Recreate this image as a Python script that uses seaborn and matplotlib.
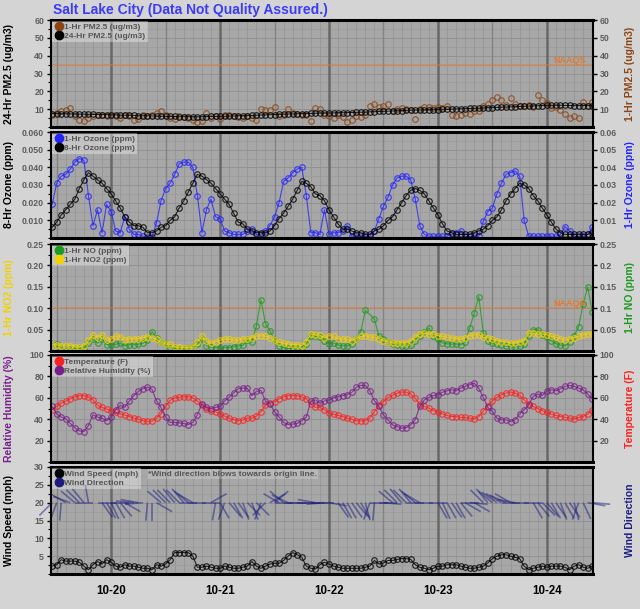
import numpy as np
import pandas as pd
import matplotlib
matplotlib.use("Agg")
import matplotlib.pyplot as plt
import matplotlib.dates as mdates
from matplotlib.lines import Line2D
from matplotlib.collections import LineCollection
from matplotlib.ticker import FixedLocator, MultipleLocator, FormatStrFormatter, FuncFormatter
import seaborn as sns

# hourly readings, 10-19 11:00 through 10-24 10:00
times = pd.date_range("2023-10-19 11:00", periods=120, freq="h")

pm25_1hr = [7, 8, 9, 9.5, 10.5, 6, 4, 3.5, 5, 6,
            6.5, 7, 6, 7, 6, 5, 7, 6, 4, 4.5,
            7, 6, 6.5, 8, 9, 7, 5, 4.5, 6, 5.5,
            5, 4, 3, 3.5, 8, 5, 6, 4.5, 6.5, 7,
            6, 5.5, 5, 6, 5, 4, 10, 9.5, 9.5, 11,
            6, 7, 10, 8, 7.5, 6.5, 7, 3.5, 10.5, 10,
            7, 6, 5, 6.5, 5.5, 3, 4, 6, 5.5, 7,
            12, 13, 11, 12, 13, 9, 10, 10.5, 10, 9.5,
            4.5, 10, 11, 11, 10.5, 11, 10.5, 11.5, 7, 6,
            6.5, 8, 7.5, 9, 9, 12, 13, 15, 17, 15,
            12.5, 16, 13, 11.5, 12, 12.5, 11, 18, 15, 13.5,
            10.5, 11, 9.5, 7.5, 5, 6, 5, 14, 11.5, 14]

pm25_24hr = [7.5, 7.5, 7.4, 7.4, 7.3, 7.3, 7.2, 7.2, 7.1, 7.1,
             7.0, 7.0, 6.9, 6.8, 6.8, 6.7, 6.6, 6.6, 6.5, 6.4,
             6.3, 6.3, 6.2, 6.1, 6.0, 6.0, 5.9, 5.9, 5.8, 5.8,
             5.8, 5.8, 5.7, 5.8, 5.8, 5.9, 5.9, 6.0, 6.0, 6.1,
             6.2, 6.3, 6.3, 6.4, 6.5, 6.6, 6.7, 6.8, 6.9, 7.0,
             7.1, 7.2, 7.3, 7.3, 7.4, 7.5, 7.5, 7.6, 7.7, 7.8,
             7.8, 7.9, 7.9, 8.0, 8.0, 8.1, 8.1, 8.2, 8.3, 8.4,
             8.5, 8.6, 8.7, 8.8, 8.9, 9.0, 9.1, 9.2, 9.3, 9.4,
             9.5, 9.5, 9.6, 9.7, 9.7, 9.8, 9.9, 9.9, 10.0, 10.1,
             10.2, 10.3, 10.4, 10.5, 10.6, 10.7, 10.8, 10.9, 11.0, 11.1,
             11.2, 11.3, 11.4, 11.5, 11.6, 11.7, 11.8, 11.9, 12.0, 12.1,
             12.2, 12.2, 12.2, 12.1, 12.1, 12.0, 12.0, 12.0, 12.0, 12.0]

ozone_1hr = [.019, .031, .035, .036, .039, .043, .045, .044, .024, .007,
             .016, .003, .019, .015, .004, .003, .012, .005, .002, .002,
             .001, .0005, .0005, .0087, .021, .028, .031, .036, .042, .043,
             .043, .040, .024, .003, .016, .022, .012, .011, .004, .003,
             .002, .002, .002, .004, .005, .002, .002, .004, .007, .012,
             .020, .032, .034, .037, .039, .040, .024, .003, .003, .002,
             .016, .002, .003, .003, .004, .007, .001, .001, .001, .001,
             .001, .004, .011, .018, .023, .030, .034, .035, .035, .033,
             .022, .007, .002, .001, .001, .001, .001, .001, .002, .003,
             .004, .001, .001, .001, .001, .0095, .015, .017, .025, .031,
             .036, .037, .038, .035, .010, .001, .001, .001, .001, .001,
             .001, .001, .002, .0065, .004, .001, .001, .001, .002, .006]

ozone_8hr = [.006, .009, .013, .016, .019, .022, .028, .033, .037, .035,
             .033, .031, .028, .025, .021, .017, .012, .009, .007, .007,
             .006, .003, .003, .004, .006, .007, .010, .012, .017, .021,
             .026, .031, .036, .035, .033, .031, .028, .025, .022, .019,
             .014, .009, .008, .005, .004, .003, .003, .003, .004, .007,
             .011, .014, .018, .022, .027, .032, .031, .029, .025, .024,
             .021, .016, .012, .008, .005, .005, .004, .003, .003, .002,
             .002, .004, .005, .007, .010, .012, .016, .020, .024, .027,
             .028, .027, .025, .021, .017, .013, .008, .004, .003, .002,
             .002, .002, .002, .003, .004, .005, .007, .010, .012, .016,
             .021, .025, .028, .031, .030, .028, .024, .021, .017, .013,
             .009, .005, .003, .002, .002, .002, .002, .002, .002, .003]

no2_1hr = [.015, .015, .012, .012, .012, .010, .010, .012, .025, .037,
           .031, .037, .025, .028, .035, .033, .025, .029, .029, .029,
           .031, .033, .031, .027, .020, .016, .016, .010, .009, .008,
           .007, .009, .022, .035, .024, .018, .022, .025, .028, .028,
           .025, .025, .028, .028, .031, .035, .036, .035, .031, .025,
           .020, .018, .016, .015, .015, .012, .022, .040, .038, .037,
           .031, .036, .034, .029, .027, .027, .024, .029, .034, .036,
           .032, .032, .029, .024, .022, .019, .019, .019, .019, .024,
           .032, .040, .041, .040, .040, .036, .034, .032, .031, .029,
           .027, .031, .036, .038, .038, .032, .031, .027, .024, .022,
           .022, .019, .019, .022, .024, .041, .041, .040, .040, .038,
           .034, .032, .029, .025, .027, .031, .034, .038, .040, .040]

no_1hr = [.015, .016, .007, .006, .005, .005, .006, .007, .018, .028,
          .018, .028, .015, .015, .016, .018, .012, .015, .014, .016,
          .018, .025, .045, .031, .020, .016, .008, .006, .005, .005,
          .006, .009, .016, .028, .012, .009, .008, .007, .008, .008,
          .010, .012, .013, .025, .020, .058, .120, .064, .047, .025,
          .012, .008, .006, .007, .006, .010, .016, .036, .034, .032,
          .024, .017, .019, .014, .012, .012, .016, .027, .045, .095,
          np.nan, .075, .035, .029, .022, .016, .014, .012, .012, .014,
          .024, .036, .044, .054, .036, .027, .019, .017, .016, .017,
          .014, .022, .054, .088, .127, .042, .024, .019, .016, .014,
          .012, .010, .010, .011, .016, .036, .050, .050, .038, .032,
          .024, .017, .014, .012, .022, .036, .057, .110, .150, .092]

temperature = [49, 52, 55, 57, 59, 61, 62, 62, 61, 58,
               53, 51, 49.5, 48, 46.5, 45, 44, 42.5, 41, 40,
               38.5, 38, 38, 41, 45, 52, 57.5, 60, 60.5, 61,
               61, 60, 57, 53, 50, 48, 47, 45, 43, 41,
               39.5, 38.5, 39, 41, 41, 43, 47, 53, 55, 56.5,
               59, 61, 62, 62, 62, 61, 59, 54, 51, 51,
               48.8, 45.7, 44.7, 43.5, 42.5, 41, 40, 38.5, 38.5, 38.5,
               41, 47, 53, 56.5, 60.3, 62.2, 64.4, 65.4, 65.4, 63.5,
               59.5, 54, 52, 50.3, 48, 46.5, 45, 43.5, 42.5, 42.5,
               41.6, 41.6, 41, 40.3, 42.5, 47.8, 52.8, 57.2, 60.3, 62.8,
               64.4, 65.4, 64.4, 62.2, 58.2, 54.1, 52, 50, 48, 46.3,
               44.7, 43.5, 42.5, 41.6, 41, 40.3, 41.6, 42.5, 44.7, 48.8]

humidity = [52, 45, 42, 40.5, 36, 32, 29, 28.5, 34, 44,
            42, 41, 38.5, 42, 49, 53, 51, 57, 62, 66,
            68.5, 70, 68, 57, 51, 42, 37, 37, 36.5, 36,
            35, 37, 44, 54.5, 51, 50, 51, 52, 57, 60.5,
            64.5, 68.5, 69, 69, 62, 66, 67, 57, 54.5, 47,
            42, 37, 35, 35.5, 36, 38.5, 42, 57, 58, 55,
            57, 58, 60, 61, 62, 63, 65, 69.7, 71.6, 71.6,
            66.6, 57.2, 52, 44, 39.4, 34.7, 33.1, 31.6, 32.2, 34.7,
            39.4, 52, 58, 60.3, 62.2, 62.8, 65.3, 66.6, 67.5, 66.6,
            69, 70.7, 72.2, 73.8, 69, 60.3, 51, 47.2, 41, 39.4,
            39.4, 37.8, 39.4, 44.7, 48.8, 53.5, 61.3, 63.5, 62.2, 66.6,
            67.5, 66.6, 68.5, 70.7, 71.6, 70.7, 69, 67.5, 63.5, 59]

wind_speed = [2.2, 2.6, 4.0, 3.6, 3.6, 3.6, 3.3, 2.2, 1.2, 2.6,
              3.5, 2.8, 4.0, 3.3, 2.2, 1.9, 2.6, 2.2, 2.2, 1.9,
              1.6, 1.6, 1.2, 2.6, 2.2, 2.8, 4.0, 6.0, 6.0, 6.0,
              6.0, 5.0, 1.9, 1.9, 2.2, 1.9, 1.6, 1.6, 2.2, 1.9,
              1.6, 1.6, 1.9, 2.2, 3.5, 2.2, 1.6, 2.2, 2.8, 3.0,
              3.0, 3.8, 5.0, 6.0, 5.4, 4.7, 2.2, 1.6, 1.4, 2.6,
              3.3, 2.8, 2.2, 1.9, 1.6, 1.6, 1.6, 1.6, 1.6, 1.9,
              2.2, 3.8, 2.8, 3.1, 3.8, 3.8, 4.1, 4.3, 4.3, 4.1,
              2.6, 1.9, 1.6, 1.2, 1.6, 2.2, 2.2, 2.6, 2.6, 2.6,
              2.2, 1.9, 1.6, 1.6, 1.9, 2.2, 3.1, 4.3, 5.0, 5.4,
              5.4, 5.0, 4.7, 4.3, 2.2, 1.2, 1.6, 1.9, 2.2, 1.9,
              2.2, 2.2, 2.2, 1.9, 1.2, 2.2, 2.6, 1.9, 1.6, 2.2]

# compass bearing the wind blows towards (0 = up on the chart)
wind_dir = [225, 200, 185, 300, 290, 310, 315, 320, 350, 270,
            90, 145, 150, 155, 150, 140, 120, 270, 275, 280,
            265, 185, 180, 120, 310, 315, 315, 320, 315, 320,
            310, 300, 270, 90, 270, 60, 190, 150, 200, 140,
            150, 145, 160, 135, 160, 135, 200, 225, 60, 50,
            300, 310, 295, 270, 90, 270, 270, 90, 280, 270,
            265, 100, 270, 145, 150, 150, 145, 140, 150, 165,
            200, 185, 90, 95, 270, 310, 315, 320, 315, 320,
            310, 300, 270, 90, 270, 150, 155, 150, 145, 150,
            140, 120, 95, 120, 270, 315, 320, 310, 305, 300,
            295, 300, 280, 270, 90, 270, 150, 140, 135, 140,
            150, 145, 160, 150, 145, 165, 200, 155, 100, 95]

pm25_naaqs = 35
no2_naaqs = 0.10

BROWN = "#8b4513"
BLUE = "#2424ff"
GREEN = "#1e9a1e"
YELLOW = "#f2d000"
RED = "#ff2020"
PURPLE = "#7a1f8a"
NAVY = "#1c1c80"
ORANGE = "#e8782c"
FIG_BG = "#d4d4d4"
PLOT_BG = "#a7a7a7"
TICK_GRAY = "#5c5c5c"

sns.set_theme(style="white")
plt.rcParams["font.family"] = ["Liberation Sans", "DejaVu Sans"]
plt.rcParams["font.weight"] = "bold"
plt.rcParams["axes.labelweight"] = "bold"

fig = plt.figure(figsize=(6.4, 6.09), dpi=100)
fig.patch.set_facecolor(FIG_BG)

W, H = 640, 609
panel_px = [(20, 127), (132, 238), (244, 351), (355, 462), (467, 574)]
axes = [fig.add_axes([51 / W, 1 - b / H, 542 / W, (b - t) / H]) for t, b in panel_px]

noons = pd.date_range("2023-10-19 12:00", periods=6, freq="D")
midnights = pd.date_range("2023-10-20", periods=5, freq="D")


def style_panel(ax, ylim, ticks, minor, fmt):
    ax.set_facecolor(PLOT_BG)
    ax.set_xlim(times[0] - pd.Timedelta(minutes=15), times[-1] + pd.Timedelta(minutes=10))
    ax.set_ylim(*ylim)
    ax.yaxis.set_major_locator(FixedLocator(ticks))
    ax.yaxis.set_minor_locator(MultipleLocator(minor))
    ax.yaxis.set_major_formatter(fmt)
    ax.xaxis.set_major_locator(mdates.DayLocator())
    ax.xaxis.set_minor_locator(mdates.HourLocator(byhour=range(0, 24, 2)))
    ax.xaxis.set_major_formatter(mdates.DateFormatter("%m-%d"))
    ax.set_axisbelow(True)
    ax.grid(which="minor", axis="x", color="#959595", lw=0.6)
    ax.grid(which="major", axis="y", color="#8e8e8e", lw=0.6)
    ax.grid(which="minor", axis="y", color="#9b9b9b", lw=0.5)
    for d in noons:
        ax.axvline(d, color="#838383", lw=1.0, zorder=0.7)
    for d in midnights:
        ax.axvline(d, color="#686868", lw=1.8, zorder=0.8)
    ax.tick_params(axis="y", which="major", left=True, length=3, width=1,
                   color="black", labelsize=6.3, labelcolor=TICK_GRAY, pad=2)
    ax.tick_params(axis="y", which="minor", left=True, length=2, width=0.8, color="black")
    ax.tick_params(axis="x", which="both", bottom=False, labelbottom=False)
    for side in ["left", "right"]:
        ax.spines[side].set_linewidth(1.5)
        ax.spines[side].set_color("black")
    for side in ["top", "bottom"]:
        ax.spines[side].set_linewidth(2.2)
        ax.spines[side].set_color("black")


def add_right(ax, ticks, fmt, label, color):
    ax2 = ax.twinx()
    ax2.set_ylim(ax.get_ylim())
    ax2.grid(False)
    if ticks:
        ax2.yaxis.set_major_locator(FixedLocator(ticks))
        ax2.yaxis.set_major_formatter(fmt)
        ax2.tick_params(axis="y", right=True, length=3, width=1, color="black",
                        labelsize=6.3, labelcolor=TICK_GRAY, pad=2)
    else:
        ax2.set_yticks([])
    ax2.set_ylabel(label, color=color, fontsize=7.5, rotation=90)
    ax2.yaxis.set_label_coords(1.059, 0.5)
    for s in ax2.spines.values():
        s.set_visible(False)
    return ax2


def draw_series(ax, values, color, connect=True):
    sns.lineplot(x=times, y=values, ax=ax, color=color, errorbar=None,
                 marker="o", markersize=4.0, markerfacecolor="none",
                 markeredgecolor=color, markeredgewidth=0.85,
                 linewidth=0.8, linestyle="-" if connect else "none", alpha=0.8)


def add_legend(ax, entries):
    handles = [Line2D([], [], marker="o", linestyle="none", markersize=6,
                      markerfacecolor=c, markeredgecolor=c) for _, c in entries]
    leg = ax.legend(handles, [lbl for lbl, _ in entries], loc="upper left",
                    fontsize=6, frameon=True, fancybox=False, facecolor="white",
                    framealpha=0.35, edgecolor="none", borderpad=0.25,
                    handletextpad=0.2, labelspacing=0.12, borderaxespad=0.15,
                    handlelength=1.0)
    for t in leg.get_texts():
        t.set_color("#555555")
    return leg


def set_left_label(ax, text, color):
    ax.set_ylabel(text, color=color, fontsize=7.5)
    ax.yaxis.set_label_coords(-0.068, 0.5)


def naaqs(ax, level):
    ax.axhline(level, color=ORANGE, lw=1.2, alpha=0.55, zorder=1.5)
    ax.text(0.987, level, "NAAQS", transform=ax.get_yaxis_transform(),
            ha="right", va="bottom", color=ORANGE, fontsize=6.5)


# PM2.5
ax = axes[0]
style_panel(ax, (0, 60), [10, 20, 30, 40, 50, 60], 5, FormatStrFormatter("%d"))
naaqs(ax, pm25_naaqs)
draw_series(ax, pm25_1hr, BROWN, connect=False)
draw_series(ax, pm25_24hr, "black")
set_left_label(ax, "24-Hr PM2.5 (ug/m3)", "black")
add_right(ax, [10, 20, 30, 40, 50, 60], FormatStrFormatter("%d"), "1-Hr PM2.5 (ug/m3)", BROWN)
add_legend(ax, [("1-Hr PM2.5 (ug/m3)", BROWN), ("24-Hr PM2.5 (ug/m3)", "black")])

# Ozone
ax = axes[1]
style_panel(ax, (0, 0.06), [0.01, 0.02, 0.03, 0.04, 0.05, 0.06], 0.005, FormatStrFormatter("%.3f"))
draw_series(ax, ozone_1hr, BLUE)
draw_series(ax, ozone_8hr, "black")
set_left_label(ax, "8-Hr Ozone (ppm)", "black")
add_right(ax, [0.01, 0.02, 0.03, 0.04, 0.05, 0.06], FormatStrFormatter("%.2f"), "1-Hr Ozone (ppm)", BLUE)
add_legend(ax, [("1-Hr Ozone (ppm)", BLUE), ("8-Hr Ozone (ppm)", "black")])

# NO / NO2
ax = axes[2]
no_ticks = [0.05, 0.10, 0.15, 0.20, 0.25]
style_panel(ax, (0, 0.25), no_ticks, 0.025, FormatStrFormatter("%.2f"))
naaqs(ax, no2_naaqs)
draw_series(ax, no_1hr, GREEN)
draw_series(ax, no2_1hr, YELLOW)
set_left_label(ax, "1-Hr NO2 (ppm)", YELLOW)
add_right(ax, no_ticks, FuncFormatter(lambda v, p: f"{v:g}"), "1-Hr NO (ppm)", GREEN)
add_legend(ax, [("1-Hr NO (ppm)", GREEN), ("1-Hr NO2 (ppm)", YELLOW)])

# Temperature / RH
ax = axes[3]
style_panel(ax, (0, 100), [20, 40, 60, 80, 100], 10, FormatStrFormatter("%d"))
draw_series(ax, temperature, RED)
draw_series(ax, humidity, PURPLE)
set_left_label(ax, "Relative Humidity (%)", PURPLE)
add_right(ax, [20, 40, 60, 80, 100], FormatStrFormatter("%d"), "Temperature (F)", RED)
add_legend(ax, [("Temperature (F)", RED), ("Relative Humidity (%)", PURPLE)])

# Wind
ax = axes[4]
style_panel(ax, (0, 30), [5, 10, 15, 20, 25, 30], 2.5, FormatStrFormatter("%d"))
origin = 20
seg_px = 18
px_per_day = 542 / (119.4 / 24)
px_per_mph = 107 / 30
t_num = mdates.date2num(times)
theta = np.deg2rad(wind_dir)
x_end = t_num + seg_px * np.sin(theta) / px_per_day
y_end = origin + seg_px * np.cos(theta) / px_per_mph
segments = np.stack([np.column_stack([t_num, np.full(len(t_num), origin)]),
                     np.column_stack([x_end, y_end])], axis=1)
ax.add_collection(LineCollection(segments, colors=NAVY, linewidths=1.2, alpha=0.5,
                                 zorder=2, clip_on=False))
draw_series(ax, wind_speed, "black")
set_left_label(ax, "Wind Speed (mph)", "black")
add_right(ax, None, None, "Wind Direction", NAVY)
add_legend(ax, [("Wind Speed (mph)", "black"), ("Wind Direction", NAVY)])
ax.text(0.179, 0.965, "*Wind direction blows towards origin line.", transform=ax.transAxes,
        ha="left", va="top", fontsize=6, color="#555555",
        bbox=dict(facecolor="white", alpha=0.2, edgecolor="none", pad=1))
ax.tick_params(axis="x", which="major", labelbottom=True, labelsize=8.3,
               labelcolor="black", pad=2)

fig.text(53 / W, 1 - 10 / H, "Salt Lake City (Data Not Quality Assured.)",
         ha="left", va="center", fontsize=10, color="#3c3cf4")

fig.savefig("out.png", dpi=100, facecolor=FIG_BG)
